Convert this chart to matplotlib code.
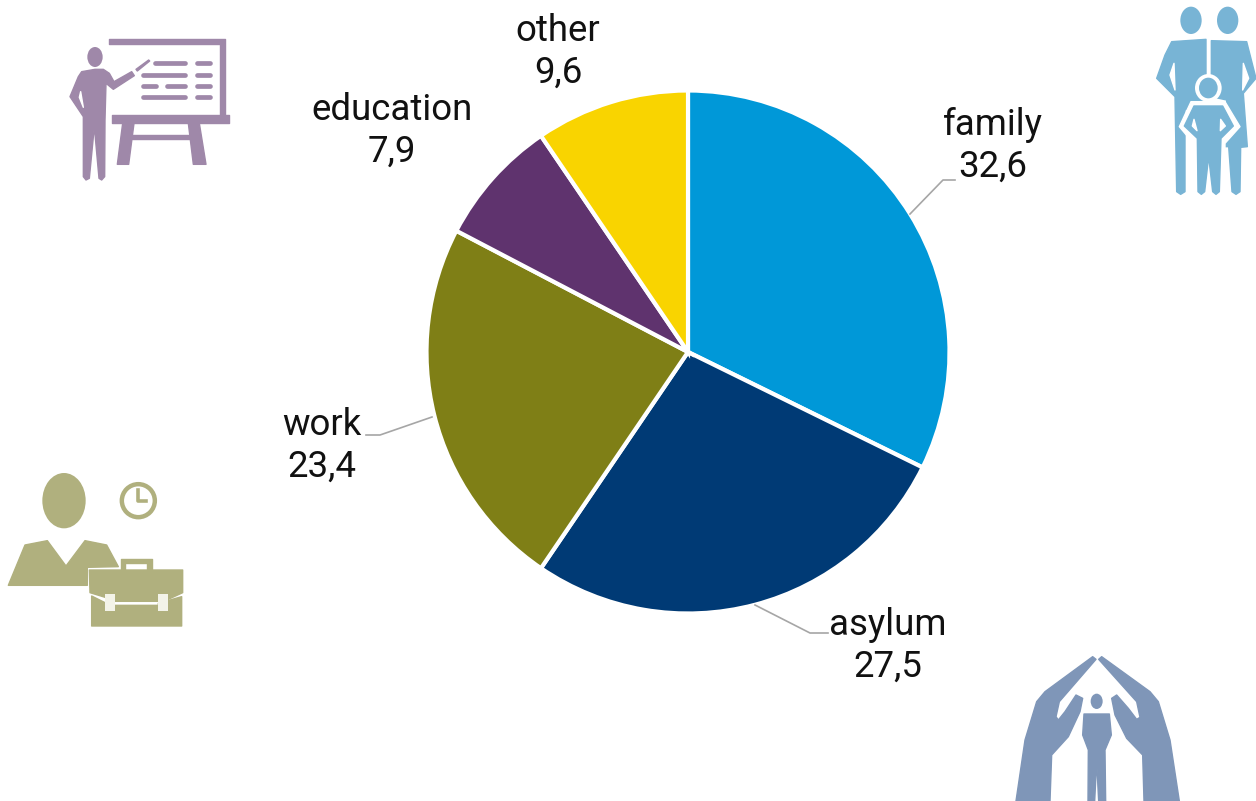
import matplotlib
matplotlib.use("Agg")
import matplotlib.pyplot as plt
from matplotlib.patches import Ellipse, Polygon, Circle, Rectangle

categories = ["family", "asylum", "work", "education", "other"]
shares = [32.6, 27.5, 23.4, 7.9, 9.6]
slice_colors = ["#0098d8", "#003a75", "#7f7f16", "#5f336e", "#f9d400"]
label_pos = [(993, 146), (888, 646), (322, 446), (392, 131), (558, 52)]
leaders = [
    [(910, 214), (943, 180), (955, 180)],
    [(755, 605), (810, 633), (828, 633)],
    [(432, 417), (380, 435), (366, 435)],
]

plt.rcParams["font.family"] = ["Roboto", "DejaVu Sans"]

fig = plt.figure(figsize=(12.56, 8.01), dpi=100)
ax = fig.add_axes([0, 0, 1, 1])

# y axis runs downwards, so counterclock here ends up clockwise on screen
ax.pie(shares, colors=slice_colors, center=(688, 352), radius=261.5,
       startangle=-90, counterclock=True,
       wedgeprops=dict(edgecolor="white", linewidth=3.0))
ax.set_xlim(0, 1256)
ax.set_ylim(801, 0)
ax.set_aspect("equal")
ax.axis("off")

for cat, val, (x, y) in zip(categories, shares, label_pos):
    txt = f"{cat}\n{val:.1f}".replace(".", ",")
    ax.text(x, y, txt, ha="center", va="center", fontsize=26.4,
            color="#111111", linespacing=1.2)

for pts in leaders:
    ax.plot([p[0] for p in pts], [p[1] for p in pts], color="#a6a6a6", lw=1.2)


# icon helpers, shapes are given in 3x units around an origin
def poly(pts, org, color, **kw):
    ax.add_patch(Polygon([(org[0] + x / 3, org[1] + y / 3) for x, y in pts],
                         closed=True, fc=color, ec=color, lw=1.0, joinstyle="round", **kw))


def oval(cx, cy, w, h, org, color, **kw):
    ax.add_patch(Ellipse((org[0] + cx / 3, org[1] + cy / 3), w / 3, h / 3,
                         fc=color, ec="none", **kw))


def bar(x1, x2, y, org, color, lw=3.4):
    ax.plot([org[0] + x1 / 3, org[0] + x2 / 3], [org[1] + y / 3, org[1] + y / 3],
            color=color, lw=lw, solid_capstyle="round")


# teacher at the board
org = (50, 20)
c = "#9f88a9"
poly([(177, 57), (525, 57), (525, 290), (510, 290), (510, 72), (177, 72)], org, c)
poly([(186, 286), (536, 286), (536, 310), (186, 310)], org, c)
poly([(218, 310), (252, 310), (236, 433), (202, 433)], org, c)
poly([(415, 310), (448, 310), (468, 433), (430, 433)], org, c)
poly([(245, 346), (425, 346), (425, 358), (245, 358)], org, c)
bar(314, 406, 130, org, c)
bar(440, 479, 130, org, c)
bar(280, 406, 164, org, c)
bar(440, 479, 164, org, c)
bar(280, 318, 197, org, c)
bar(352, 406, 197, org, c)
bar(440, 479, 197, org, c)
bar(280, 406, 230, org, c)
bar(440, 479, 230, org, c)
oval(135, 111, 46, 60, org, c)
poly([(95, 155), (135, 148), (160, 148), (178, 160), (192, 185), (245, 155), (253, 167),
      (190, 208), (168, 190), (165, 300), (164, 470), (155, 480), (147, 475), (133, 320),
      (118, 475), (108, 480), (100, 470), (100, 290), (60, 230), (85, 170)], org, c)
poly([(88, 232), (92, 215), (100, 262)], org, "white")
poly([(258, 148), (296, 120), (299, 123), (262, 153)], org, c)

# family
org = (1130, 0)
c = "#78b4d5"
oval(183, 61, 64, 82, org, c)
oval(293, 61, 64, 82, org, c)
poly([(125, 125), (228, 118), (228, 300), (165, 330), (165, 575), (152, 583), (140, 575),
      (135, 290), (80, 235), (105, 165)], org, c)
poly([(244, 122), (350, 125), (378, 235), (340, 280), (352, 440), (332, 442), (330, 575),
      (318, 583), (306, 575), (296, 440), (282, 440), (290, 300), (244, 290)], org, c)
poly([(120, 225), (132, 190), (135, 270)], org, "white")
poly([(340, 190), (356, 235), (338, 270)], org, "white")
# white halo around the child
oval(235, 264, 80, 84, org, "white")
poly([(183, 305), (285, 305), (330, 380), (285, 430), (285, 583), (190, 583), (190, 430),
      (148, 380)], org, "white")
oval(235, 264, 56, 62, org, c)
poly([(192, 318), (278, 318), (310, 378), (273, 415), (268, 575), (258, 583), (248, 575),
      (236, 470), (224, 575), (214, 583), (204, 575), (202, 415), (163, 378)], org, c)
poly([(192, 358), (201, 392), (187, 378)], org, "white")
poly([(272, 358), (286, 378), (271, 392)], org, "white")

# worker with briefcase
org = (0, 460)
c = "#b0b07e"
oval(192, 122, 130, 166, org, c)
poly([(75, 255), (142, 242), (198, 318), (255, 242), (320, 255), (355, 320), (262, 322),
      (262, 376), (25, 376)], org, c)
ax.add_patch(Circle((org[0] + 415 / 3, org[1] + 122 / 3), 16.5, fc="none", ec=c, lw=3.2))
ax.plot([org[0] + 415 / 3, org[0] + 415 / 3, org[0] + 438 / 3],
        [org[1] + 90 / 3, org[1] + 124 / 3, org[1] + 124 / 3], color=c, lw=2.6)
poly([(362, 298), (455, 298), (455, 330), (442, 330), (442, 310), (375, 310), (375, 330),
      (362, 330)], org, c)
poly([(268, 330), (548, 330), (548, 398), (505, 418), (505, 424), (335, 424), (335, 418),
      (270, 398)], org, c)
poly([(275, 408), (315, 428), (315, 436), (475, 436), (475, 430), (545, 410), (545, 498),
      (275, 498)], org, c)
ax.add_patch(Rectangle((org[0] + 316 / 3, org[1] + 402 / 3), 30 / 3, 50 / 3, fc="#f3f3e8", ec="none"))
ax.add_patch(Rectangle((org[0] + 473 / 3, org[1] + 402 / 3), 30 / 3, 50 / 3, fc="#f3f3e8", ec="none"))

# sheltering hands
org = (1000, 640)
c = "#7f96b8"
poly([(278, 50), (288, 58), (178, 185), (168, 230), (175, 240), (195, 215), (228, 165),
      (248, 175), (240, 215), (205, 290), (155, 345), (150, 483), (48, 483), (75, 300),
      (110, 185), (135, 155)], org, c)
poly([(305, 50), (296, 58), (410, 185), (420, 232), (410, 238), (385, 205), (350, 165),
      (335, 175), (345, 225), (380, 295), (428, 345), (432, 483), (538, 483), (510, 300),
      (475, 185), (450, 155)], org, c)
oval(290, 184, 36, 46, org, c)
poly([(252, 222), (328, 222), (334, 285), (315, 330), (317, 483), (296, 483), (290, 365),
      (284, 483), (264, 483), (265, 330), (248, 285)], org, c)

fig.savefig("out.png", dpi=100)
